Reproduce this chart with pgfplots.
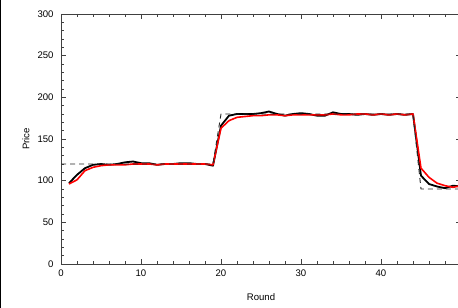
\documentclass[border=0pt]{standalone}
\usepackage{pgfplots}
\pgfplotsset{compat=1.18}
\usepackage{fontspec}
\setmainfont{Liberation Sans}
\pgfplotstableread{
r v
1 97
2 107
3 115
4 119
5 120
6 119
7 120
8 122
9 123
10 121
11 121
12 119
13 120
14 120
15 121
16 121
17 120
18 120
19 118
20 166
21 178
22 180
23 180
24 180
25 181
26 183
27 180
28 178
29 180
30 181
31 180
32 178
33 178
34 182
35 180
36 180
37 179
38 180
39 179
40 180
41 179
42 180
43 179
44 180
45 106
46 96
47 93
48 91
49 94
50 93
}\blackdata
\pgfplotstableread{
r v
1 96
2 101
3 112
4 116
5 118
6 119
7 119
8 119
9 120
10 120
11 120
12 119
13 120
14 120
15 120
16 120
17 120
18 120
19 119
20 163
21 172
22 176
23 177
24 178
25 178
26 179
27 179
28 178
29 179
30 179
31 179
32 179
33 179
34 180
35 179
36 179
37 180
38 180
39 179
40 180
41 179
42 180
43 179
44 180
45 115
46 104
47 97
48 94
49 92
50 94
}\reddata
\pgfplotstableread{
r v
0 120
19 120
20 180
44 180
45 90
50 90
}\target
\begin{document}
\begin{tikzpicture}
\begin{axis}[
  name=ax,
  scale only axis,
  width=400bp, height=250bp,
  xmin=0, xmax=50, ymin=0, ymax=300,
  xtick={0,10,20,30,40},
  ytick={0,50,100,150,200,250,300},
  minor x tick num=4,
  minor y tick num=4,
  extra x ticks={42,44,46,48},
  extra x tick labels={},
  extra x tick style={major tick length=3bp},
  tick align=inside,
  major tick length=5bp,
  minor tick length=3bp,
  every tick/.style={black!75, line width=0.6bp},
  axis line style={black!75, line width=0.8bp},
  font=\fontsize{9.6}{11}\selectfont,
  /pgf/number format/assume math mode=true,
  yticklabel style={xshift=-4bp},
  xticklabel style={yshift=-2bp},
  every axis x label/.style={at={(axis description cs:0.5,-0.132)}, anchor=center},
  every axis y label/.style={at={(axis description cs:-0.0875,0.5)}, rotate=90, anchor=center},
  xlabel={Round},
  ylabel={Price},
]
\addplot[black, line width=1.8bp, line join=round] table[x=r,y=v] {\blackdata};
\addplot[red, line width=1.6bp, line join=round] table[x=r,y=v] {\reddata};
\addplot[black!85, line width=0.9bp, dash pattern=on 5bp off 4bp] table[x=r,y=v] {\target};
\end{axis}
\pgfresetboundingbox
\path[use as bounding box] ([xshift=-61bp,yshift=-44bp]ax.south west) rectangle ([xshift=397bp,yshift=14bp]ax.north west);
\draw[black, line width=1.5bp] ([xshift=-60.25bp,yshift=-44bp]ax.south west) -- ([xshift=-60.25bp,yshift=14bp]ax.north west);
\end{tikzpicture}
\end{document}
